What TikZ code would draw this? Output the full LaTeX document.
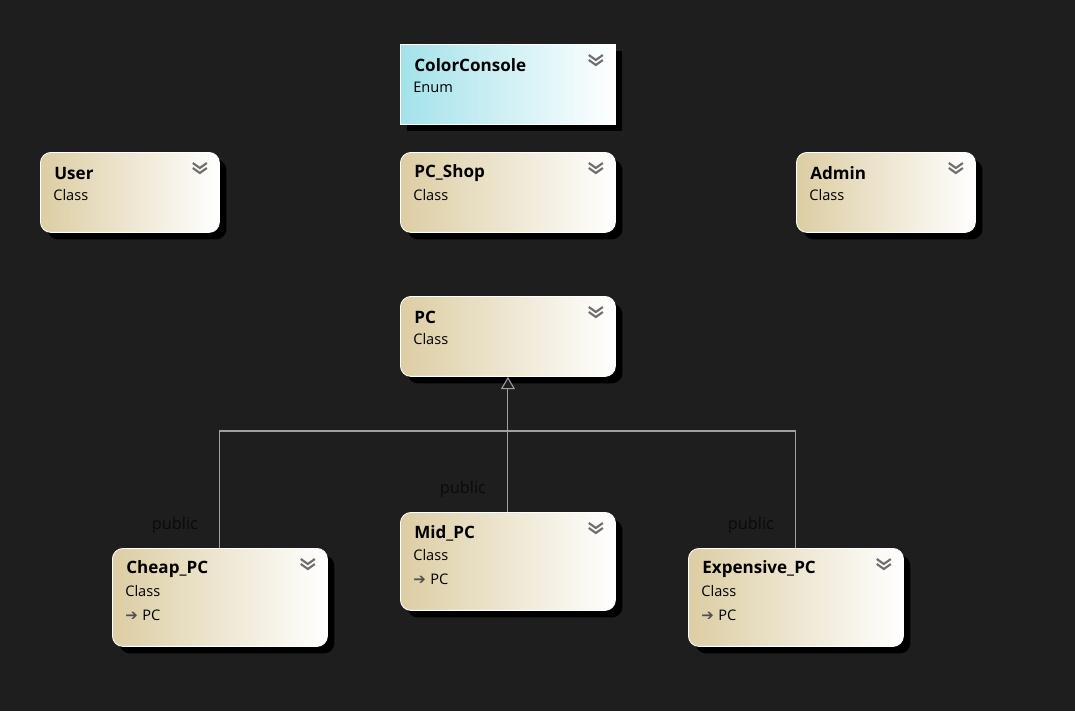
\documentclass[tikz,border=0pt]{standalone}
\usepackage{fontspec}
\setmainfont{Open Sans}
\newfontfamily\flechefont{DejaVu Sans}
\usetikzlibrary{positioning, arrows.meta, shadows}
\definecolor{fond}{HTML}{1E1E1E}
\definecolor{sable}{HTML}{DCCDA3}
\definecolor{turquoise}{HTML}{A3E2EA}
\definecolor{trait}{HTML}{A0A0A0}
\definecolor{chevgris}{HTML}{6E6E6E}
\definecolor{flechegris}{HTML}{505050}
\definecolor{pubnoir}{HTML}{0A0A0A}
\tikzset{
  boite/.style = {draw = white, line width = 0.5pt, rounded corners = 6pt, left color = sable, right color = white,
    anchor = north west, inner sep = 0pt,
    drop shadow = {shadow xshift = 4pt, shadow yshift = -4pt, fill = black, opacity = 1}},
  enumboite/.style = {boite, rounded corners = 0pt, left color = turquoise},
  titre/.style = {anchor = west, inner sep = 0pt, font = \fontsize{9.7}{11}\selectfont\bfseries},
  genre/.style = {anchor = west, inner sep = 0pt, font = \fontsize{8.3}{10}\selectfont},
  pub/.style = {inner sep = 0pt, text = pubnoir, font = \fontsize{9.3}{11}\selectfont},
  lien/.style = {draw = trait, line width = 0.6pt},
  chevron/.pic = {
    \draw[chevgris, line width = 1.2pt] (-7,-6) -- (0,-1) -- (7,-6);
    \draw[chevgris, line width = 1.2pt] (-7,-1) -- (0,4) -- (7,-1);
  }
}

\begin{document}
\begin{tikzpicture}[x = 0.02cm, y = -0.02cm]
  % Fond
  \fill[fond] (0,0) rectangle (1075,711);
  % Enum
  \node[enumboite, minimum width = 4.3cm, minimum height = 1.6cm] (console) at (400,44) {};
  \node[titre] (console-t) at ([shift = {(14,21)}]console.north west) {ColorConsole};
  \node[genre] (console-g) at ([shift = {(13,43)}]console.north west) {Enum};
  \pic at ([shift = {(-20,17)}]console.north east) {chevron};
  % Classes simples
  \foreach \nom/\x/\y/\w/\titrebox in {user/40/152/3.58/User, shop/400/152/4.3/PC\_Shop,
      admin/796/152/3.58/Admin, pc/400/296/4.3/PC} {
    \node[boite, minimum width = \w cm, minimum height = 1.6cm] (\nom) at (\x,\y) {};
    \node[titre] (\nom-t) at ([shift = {(14,21)}]\nom.north west) {\titrebox};
    \node[genre] (\nom-g) at ([shift = {(13,43)}]\nom.north west) {Class};
    \pic at ([shift = {(-20,17)}]\nom.north east) {chevron};
  }
  % Classes derivees
  \foreach \nom/\x/\y/\titrebox in {cheap/112/548/Cheap\_PC, mid/400/512/Mid\_PC,
      expensive/688/548/Expensive\_PC} {
    \node[boite, minimum width = 4.3cm, minimum height = 1.96cm] (\nom) at (\x,\y) {};
    \node[titre] (\nom-t) at ([shift = {(14,21)}]\nom.north west) {\titrebox};
    \node[genre] (\nom-g) at ([shift = {(13,43)}]\nom.north west) {Class};
    \node[genre] (\nom-b) at ([shift = {(13,67)}]\nom.north west) {{\flechefont\textcolor{flechegris}{\fontsize{8.5}{9}\selectfont ➔}}\hspace{2.5pt}PC};
    \pic at ([shift = {(-20,17)}]\nom.north east) {chevron};
    \node[pub] (\nom-p) at ([shift = {(-45,-23)}]\nom.north) {public};
  }
  % Heritage
  \coordinate (bus) at (507,431);
  \draw[lien] (cheap.north) |- (bus) -| (expensive.north);
  \draw[lien, -{Triangle[open, length = 7pt, width = 8pt, fill = fond]}] (mid.north) -- (pc.south);
\end{tikzpicture}
\end{document}
